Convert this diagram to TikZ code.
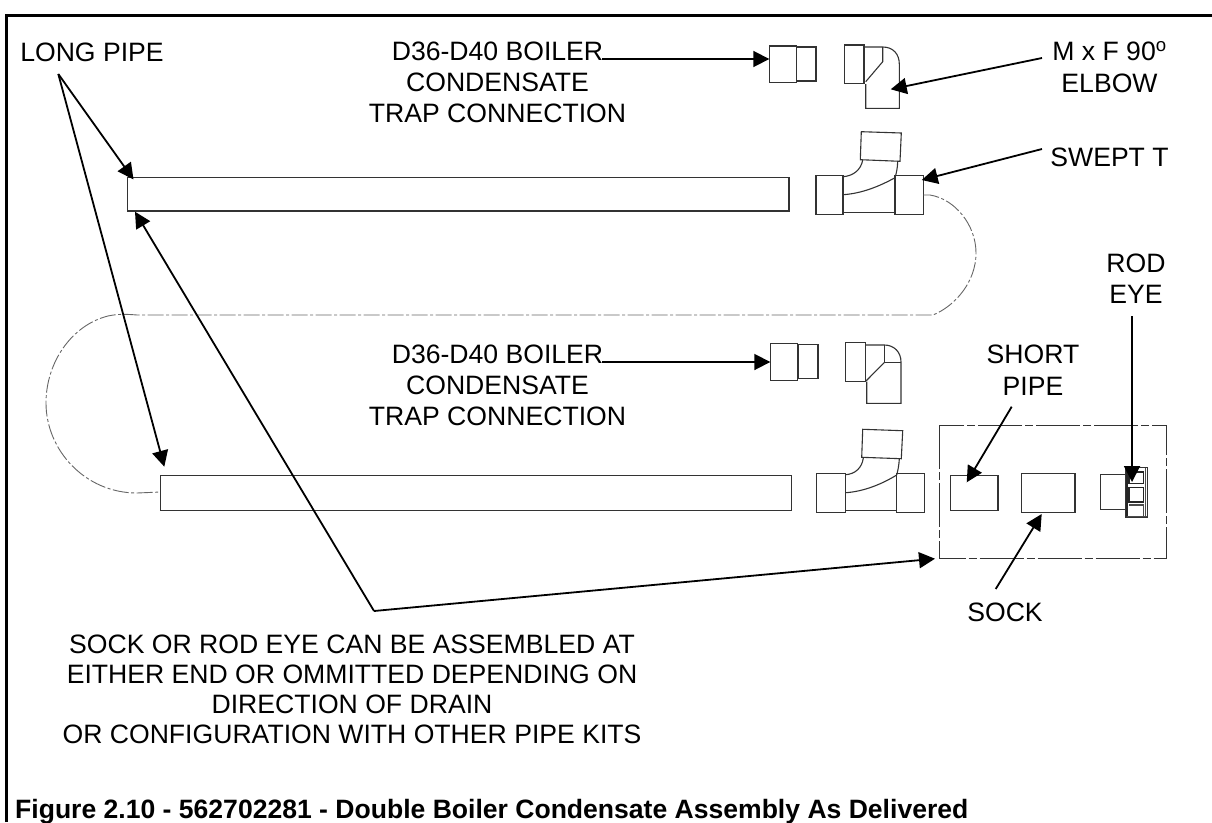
\documentclass[tikz,border=0pt]{standalone}
\usepackage{fontspec}
\setmainfont{Liberation Sans}
\usetikzlibrary{arrows.meta}
\tikzset{
  partline/.style={draw=black!80,line width=1.1pt},
  partbox/.style={partline,rectangle,inner sep=0pt,outer sep=0pt,anchor=north west},
  centre/.style={draw=black!60,line width=0.9pt,dash pattern=on 16pt off 2.5pt on 3pt off 2.5pt},
  ptr/.style={draw=black,line width=1.8pt,-{Triangle[length=16pt,width=16pt]}},
  lab/.style={font=\fontsize{26.6}{31.2}\selectfont,align=center,inner sep=0pt,anchor=base,text=black}
}
\newcommand{\partrect}[5]{%
  \pgfmathsetmacro{\pw}{#4-#2}\pgfmathsetmacro{\ph}{#5-#3}%
  \node[partbox,minimum width=\pw pt,minimum height=\ph pt] (#1) at (#2,#3) {};}
\begin{document}
\begin{tikzpicture}[x=1pt,y=-1pt]
\useasboundingbox (0,0) rectangle (1212,822);
% frame
\draw[line width=2.2pt,line cap=butt] (6.5,822) -- (6.5,15.5) -- (1212,15.5);
% upper coupling + elbow
\partrect{cua}{769.3}{46}{796.7}{82.7}
\partrect{cub}{796.7}{47}{816}{81}
\partrect{ela}{844.3}{45}{864}{83.7}
\draw[partline] (864,47) -- (882.7,47) .. controls (893,47) and (899.3,54) .. (899.3,64) -- (899.3,108.3) -- (865.7,108.3) -- (865.7,84);
\draw[partline] (882.7,47) -- (882.7,61.7) -- (865.7,81.7);
% upper long pipe and swept T
\partrect{longa}{127.5}{177.5}{789}{211}
\partrect{tla}{816}{175.7}{843}{214.3}
\partrect{tra}{895}{175.7}{923.3}{214.3}
\draw[partline] (843,212.3) -- (895,212.3);
\draw[partline] (861.3,131.7) -- (901.3,133) -- (900,161.3) -- (860.3,159.7) -- cycle;
\draw[partline] (843,176.7) .. controls (853,176) and (861,170) .. (862.7,160);
\draw[partline] (843,194.7) .. controls (862,193.5) and (880,186) .. (895,177.7);
\draw[partline] (895,177.7) .. controls (896.5,173) and (897.5,168) .. (897.7,161);
% centre line
\draw[centre] (923.3,195) -- (930,195) .. controls (955,199) and (976,225) .. (976,253) .. controls (976,282) and (955,306) .. (933,315) -- (137,315) .. controls (125,314) and (117,314) .. (108,316) .. controls (72,325) and (46,362) .. (46,403) .. controls (46,450) and (85,493) .. (137,493) -- (160.7,492);
% lower coupling + elbow
\partrect{cuc}{770.3}{343.7}{797.7}{380.7}
\partrect{cud}{798.5}{344.7}{818}{378.7}
\partrect{elb}{845.3}{342.7}{865.3}{381.7}
\draw[partline] (865.3,345) -- (884.3,345) .. controls (894,345) and (901,352) .. (901,362) -- (901,403.3) -- (866.7,403.3) -- (866.7,381.7);
\draw[partline] (884.3,345) -- (884.3,362.5) -- (901,362.5);
\draw[partline] (884.3,362.5) -- (866,381);
% lower long pipe and T
\partrect{longb}{160.7}{475.3}{791.7}{510.3}
\partrect{tlb}{816.7}{473.3}{845.7}{512.3}
\partrect{trb}{896.7}{473.3}{924.7}{512.3}
\draw[partline] (845.7,510.3) -- (896.7,510.3);
\draw[partline] (862.7,429.3) -- (902.7,430.7) -- (901.3,458.7) -- (861.7,457.3) -- cycle;
\draw[partline] (845.7,474.7) .. controls (855,474) and (862,468) .. (863.3,458);
\draw[partline] (845.7,492.7) .. controls (864,491.5) and (882,484) .. (896.7,475);
\draw[partline] (896.7,475) .. controls (898,470) and (899,465) .. (899.3,459);
% kit
\draw[centre,draw=black!80,dash pattern=on 44pt off 3pt on 8pt off 3pt] (939.3,425) rectangle (1166,558.7);
\partrect{shortp}{950.3}{475.3}{998}{510.3}
\partrect{sock}{1021.7}{473.3}{1075}{512.3}
\partrect{rodb}{1100.3}{474.7}{1126}{509.3}
\partrect{rode}{1126}{467.3}{1147.7}{517}
\draw[black!85,line width=2.4pt] (1127,468) -- (1127,516);
\draw[black!70,line width=1.8pt] (1145.5,468) -- (1145.5,516) (1127,516.5) -- (1147,516.5);
\draw[black!85,line width=1.6pt] (1129,471.7) rectangle (1143.3,483.3);
\draw[black!85,line width=1.6pt] (1129,487.3) rectangle (1143.3,501.7);
\draw[black!70,line width=1.3pt] (1129,505) -- (1143.3,505) -- (1143.3,516);
% labels
\node[lab] (llong) at (92,61) {LONG PIPE};
\node[lab] (lcond) at (497.5,122.7) {D36-D40 BOILER\\CONDENSATE\\TRAP CONNECTION};
\node[lab] (lelbow) at (1109.5,92) {M x F 90\textsuperscript{o}\\ELBOW};
\node[lab] (lswept) at (1109.5,166) {SWEPT T};
\node[lab] (lrod) at (1136,303.5) {ROD\\EYE};
\node[lab] (lcondb) at (497.5,425.6) {D36-D40 BOILER\\CONDENSATE\\TRAP CONNECTION};
\node[lab] (lshort) at (1033,395) {SHORT\\PIPE};
\node[lab] (lsock) at (1005,621) {SOCK};
\node[lab,font=\fontsize{26.6}{30}\selectfont] (lnote) at (352,743) {SOCK OR ROD EYE CAN BE ASSEMBLED AT\\EITHER END OR OMMITTED DEPENDING ON\\DIRECTION OF DRAIN\\OR CONFIGURATION WITH OTHER PIPE KITS};
\node[font=\bfseries\fontsize{26.55}{30}\selectfont,inner sep=0pt,anchor=base west] (lcap) at (15,818) {Figure 2.10 - 562702281 - Double Boiler Condensate Assembly As Delivered};
% pointer origins
\coordinate (plong) at (58.3,74);
\coordinate (pnote) at (374,611);
\coordinate (pelbow) at (1042,58);
\coordinate (pswept) at (1042,149);
\coordinate (pshort) at (1011.7,406.7);
\coordinate (psock) at (995.7,589);
\coordinate (prod) at (1132,316);
\coordinate (pcond) at (602,59);
\coordinate (pcondb) at (602,362);
% pointers
\draw[ptr] (plong) -- ([shift={(6,2)}]longa.north west);
\draw[ptr] (plong) -- ([shift={(3.6,-8.6)}]longb.north west);
\draw[ptr] (pnote) -- ([shift={(7.5,0.7)}]longa.south west);
\draw[ptr] (pnote) -- (935,558.7);
\draw[ptr] (pcond) -- (cua.west |- pcond);
\draw[ptr] (pcondb) -- (cuc.west |- pcondb);
\draw[ptr] (pelbow) -- (890.7,89.3);
\draw[ptr] (pswept) -- ([shift={(-1.6,4.3)}]tra.north east);
\draw[ptr] (pshort) -- ([shift={(16.4,7)}]shortp.north west);
\draw[ptr] (psock) -- ([shift={(20,1.7)}]sock.south west);
\draw[ptr] (prod) -- (1132,482);
\end{tikzpicture}
\end{document}
